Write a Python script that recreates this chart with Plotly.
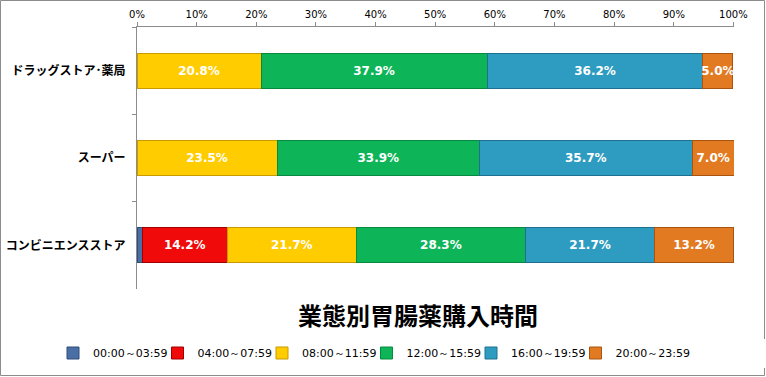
import plotly.graph_objects as go

categories = ["ドラッグストア･薬局", "スーパー", "コンビニエンスストア"]
series_names = ["00:00～03:59", "04:00～07:59", "08:00～11:59", "12:00～15:59", "16:00～19:59", "20:00～23:59"]
v_0000 = [0.0, 0.0, 0.9]
v_0400 = [0.0, 0.0, 14.2]
v_0800 = [20.8, 23.5, 21.7]
v_1200 = [37.9, 33.9, 28.3]
v_1600 = [36.2, 35.7, 21.7]
v_2000 = [5.0, 7.0, 13.2]
series_values = [v_0000, v_0400, v_0800, v_1200, v_1600, v_2000]
colors = ["#4A6FA5", "#F00A0A", "#FFCC00", "#0DB558", "#2E9CC0", "#E27A22"]
line_colors = ["#2F4C7A", "#A00000", "#C89A00", "#078A40", "#1F7090", "#A85410"]
x_ticks = [0, 10, 20, 30, 40, 50, 60, 70, 80, 90, 100]
x_tick_labels = [f"{t}%" for t in x_ticks]
title_text = "業態別胃腸薬購入時間"

fig = go.Figure()
for name, vals, c, lc in zip(series_names, series_values, colors, line_colors):
    texts = [f"{v:.1f}%" if v >= 2 else "" for v in vals]
    fig.add_trace(go.Bar(
        y=categories, x=vals, name=name, orientation="h",
        marker=dict(color=c, line=dict(color=lc, width=1)),
        text=texts, textposition="inside", insidetextanchor="middle",
        textangle=0, constraintext="none", cliponaxis=False,
        textfont=dict(color="white", size=12, family="DejaVu Sans", weight="bold"),
        hoverinfo="skip",
    ))
# empty legend spacer so the last legend label is not clipped
fig.add_trace(go.Bar(y=[None], x=[None], name=" ", orientation="h",
                     marker=dict(color="rgba(0,0,0,0)", line=dict(width=0)),
                     hoverinfo="skip"))

W, H = 766, 377
ml, mr, mt, mb = 137, 32, 27, 88
pw, ph = W - ml - mr, H - mt - mb

fig.update_layout(
    width=W, height=H, barmode="stack", bargap=0.6,
    margin=dict(l=ml, r=mr, t=mt, b=mb, autoexpand=False),
    paper_bgcolor="white", plot_bgcolor="white",
    font=dict(family="DejaVu Sans", color="black"),
    xaxis=dict(side="top", range=[0, 100.1], tickvals=x_ticks, ticktext=x_tick_labels,
               showgrid=False, zeroline=False, showline=True, linecolor="#8C8C8C",
               ticks="outside", ticklen=4, tickcolor="#8C8C8C", automargin=False,
               tickfont=dict(size=10, family="DejaVu Sans", color="black")),
    yaxis=dict(autorange="reversed", showgrid=False, showline=True, linecolor="#8C8C8C",
               ticks="outside", ticklen=4, tickcolor="#8C8C8C", tickson="boundaries",
               automargin=False, ticklabelstandoff=8,
               tickfont=dict(size=12, family="Noto Sans CJK JP", color="black", weight="bold")),
    legend=dict(orientation="h", x=(53 - ml) / pw, y=-(353 - (mt + ph)) / ph, xanchor="left", yanchor="middle",
                entrywidth=59.5, entrywidthmode="pixels", traceorder="normal",
                font=dict(size=11, family="DejaVu Sans", color="black"), itemwidth=30),
    showlegend=True,
    annotations=[dict(text=f"<b>{title_text}</b>", xref="paper", yref="paper",
                      x=(418 - ml) / pw, y=-(314 - (mt + ph)) / ph, xanchor="center", yanchor="middle",
                      showarrow=False, font=dict(size=24, family="Noto Sans CJK JP", color="black"))],
    shapes=[dict(type="rect", xref="paper", yref="paper",
                 x0=-(ml - 0.5) / pw, x1=1 + (mr - 1.5) / pw,
                 y0=-(mb - 1.5) / ph, y1=1 + (mt - 0.5) / ph,
                 line=dict(color="#8C8C8C", width=1), layer="below")],
)
fig.write_html("out.html", config={"displayModeBar": False},
               post_script="document.body.style.margin='0';")
